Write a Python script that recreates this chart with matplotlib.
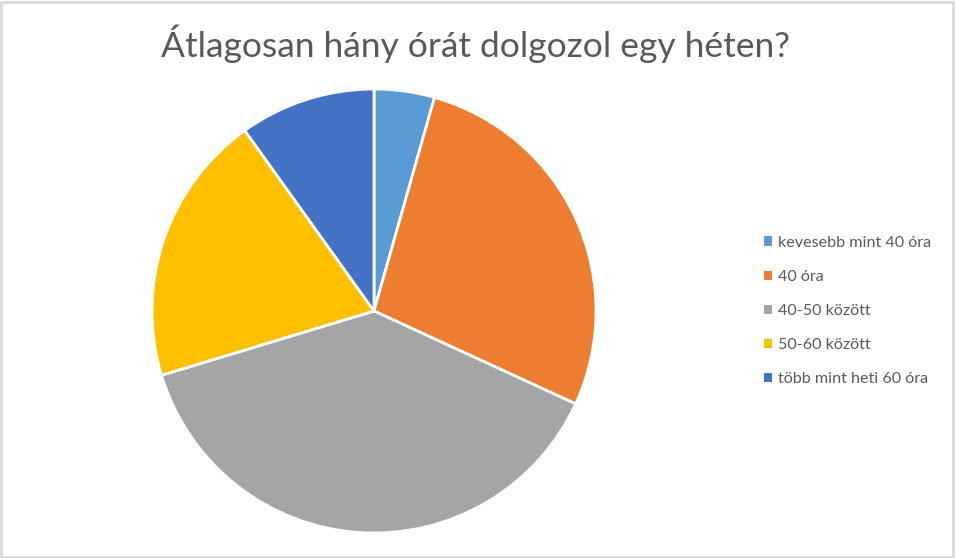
import matplotlib.pyplot as plt
from matplotlib.patches import Rectangle, Patch

# adatok
categories = ['kevesebb mint 40 óra', '40 óra', '40-50 között', '50-60 között', 'több mint heti 60 óra']
values = [4, 25, 35, 18, 9]
colors = ['#5B9BD5', '#ED7D31', '#A5A5A5', '#FFC000', '#4472C4']
title = 'Átlagosan hány órát dolgozol egy héten?'

plt.rcParams['font.family'] = ['Lato', 'DejaVu Sans']
text_color = '#595959'

W, H = 955, 558
fig = plt.figure(figsize=(W / 100, H / 100), dpi=100)

# kör: középpont (374, 311), sugár 222 px
cx, cy, r = 374, 311, 222
ax = fig.add_axes([(cx - r) / W, (H - cy - r) / H, 2 * r / W, 2 * r / H])
ax.pie(values, colors=colors, startangle=90, counterclock=False, radius=1,
       wedgeprops=dict(edgecolor='white', linewidth=2))
ax.set_xlim(-1.0, 1.0)
ax.set_ylim(-1.0, 1.0)
ax.set_aspect('auto')
ax.axis('off')

fig.text(475 / W, 1 - 44 / H, title, ha='center', va='center',
         fontsize=25.5, color=text_color)

handles = [Patch(facecolor=c, edgecolor='none') for c in colors]
leg = fig.legend(handles, categories, loc='center left',
                 bbox_to_anchor=(749 / W, 1 - 311 / H), frameon=False,
                 handlelength=0.5, handleheight=0.5, handletextpad=0.4,
                 labelspacing=1.25, fontsize=11.6)
for t in leg.get_texts():
    t.set_color(text_color)

# keret
fig.patches.append(Rectangle((0.001, 0.002), 0.997, 0.995, transform=fig.transFigure,
                             fill=False, edgecolor='#D9D9D9', linewidth=2))

fig.savefig('out.png', dpi=100)
